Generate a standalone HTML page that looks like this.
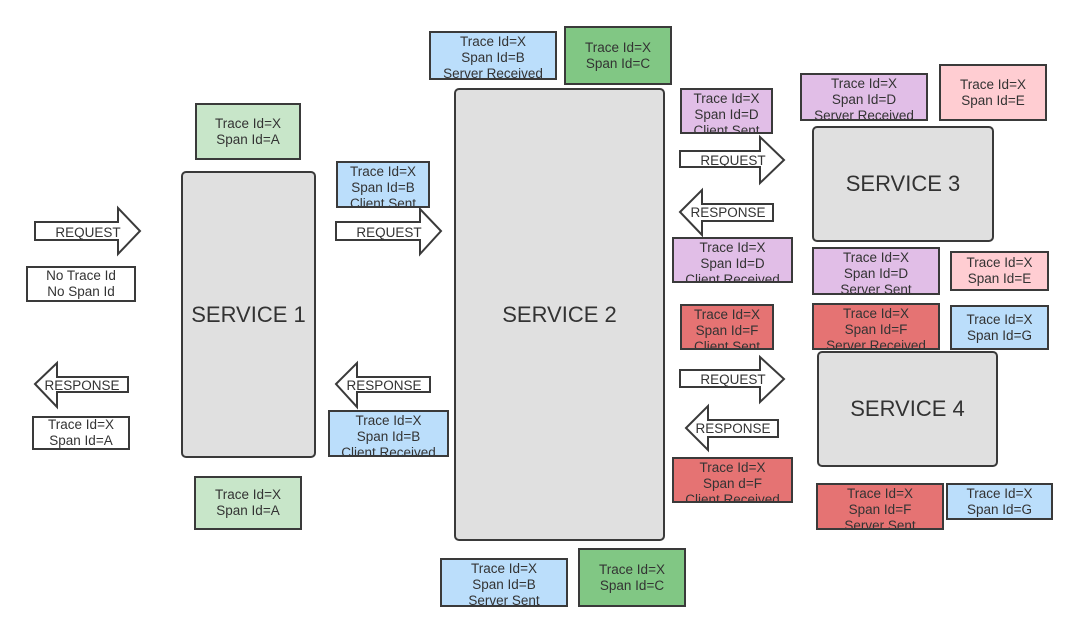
<!DOCTYPE html>
<html><head><meta charset="utf-8"><style>
body{margin:0;width:1080px;height:633px;background:#fff;position:relative;overflow:hidden;font-family:"Liberation Sans","DejaVu Sans",sans-serif;color:#333}
.b{position:absolute;box-sizing:border-box;border:2px solid #3a3a3a;font-size:13.5px;line-height:16px;text-align:center;overflow:hidden;display:flex;flex-direction:column;justify-content:center}
.t{justify-content:flex-start;padding-top:1px}
.s{position:absolute;box-sizing:border-box;border:2px solid #3a3a3a;border-radius:5px;background:#e0e0e0;display:flex;align-items:center;justify-content:center;font-size:22px;color:#333}
.g{background:#c8e6c9}.G{background:#81c784}.bl{background:#bbdefb}.p{background:#e1bee7}.k{background:#ffcdd2}.r{background:#e57373}.w{background:#fff}
svg{position:absolute;left:0;top:0}
</style></head><body>
<div class="s" style="left:181px;top:171px;width:135px;height:287px">SERVICE 1</div>
<div class="s" style="left:454px;top:88px;width:211px;height:453px">SERVICE 2</div>
<div class="s" style="left:812px;top:126px;width:182px;height:116px">SERVICE 3</div>
<div class="s" style="left:817px;top:351px;width:181px;height:116px">SERVICE 4</div>

<svg width="1080" height="633">
<g fill="#fff" stroke="#3a3a3a" stroke-width="2">
<polygon points="35,222 118,222 118,208 140,231 118,254 118,240 35,240"/>
<polygon points="336,222 420,222 420,209 441,231 420,254 420,240 336,240"/>
<polygon points="680,151 760,151 760,137 784,160 760,183 760,167 680,167"/>
<polygon points="680,370 760,370 760,357 784,379 760,402 760,387 680,387"/>
<polygon points="35,384 57,363 57,377 128,377 128,392 57,392 57,407"/>
<polygon points="336,384 357,363 357,377 430,377 430,392 357,392 357,407"/>
<polygon points="680,212 702,190 702,204 773,204 773,221 702,221 702,235"/>
<polygon points="686,428 708,406 708,420 778,420 778,437 708,437 708,450"/>
</g>
<g font-family="Liberation Sans, sans-serif" font-size="13.5" fill="#333" text-anchor="middle">
<text x="88" y="237">REQUEST</text>
<text x="389" y="237">REQUEST</text>
<text x="733" y="165">REQUEST</text>
<text x="733" y="384">REQUEST</text>
<text x="82" y="390">RESPONSE</text>
<text x="384" y="390">RESPONSE</text>
<text x="728" y="217">RESPONSE</text>
<text x="733" y="433">RESPONSE</text>
</g>
</svg>

<div class="b g" style="left:195px;top:103px;width:106px;height:57px">Trace Id=X<br>Span Id=A</div>
<div class="b bl t" style="left:336px;top:161px;width:94px;height:47px">Trace Id=X<br>Span Id=B<br>Client Sent</div>
<div class="b w" style="left:26px;top:266px;width:110px;height:36px">No Trace Id<br>No Span Id</div>
<div class="b w" style="left:32px;top:416px;width:98px;height:34px">Trace Id=X<br>Span Id=A</div>
<div class="b bl t" style="left:328px;top:410px;width:121px;height:47px">Trace Id=X<br>Span Id=B<br>Client Received</div>
<div class="b g" style="left:194px;top:476px;width:108px;height:54px">Trace Id=X<br>Span Id=A</div>
<div class="b bl t" style="left:429px;top:31px;width:128px;height:49px">Trace Id=X<br>Span Id=B<br>Server Received</div>
<div class="b G" style="left:564px;top:26px;width:108px;height:59px">Trace Id=X<br>Span Id=C</div>
<div class="b p t" style="left:680px;top:88px;width:93px;height:46px">Trace Id=X<br>Span Id=D<br>Client Sent</div>
<div class="b p t" style="left:800px;top:73px;width:128px;height:48px">Trace Id=X<br>Span Id=D<br>Server Received</div>
<div class="b k" style="left:939px;top:64px;width:108px;height:57px">Trace Id=X<br>Span Id=E</div>
<div class="b p t" style="left:672px;top:237px;width:121px;height:46px">Trace Id=X<br>Span Id=D<br>Client Received</div>
<div class="b p t" style="left:812px;top:247px;width:128px;height:48px">Trace Id=X<br>Span Id=D<br>Server Sent</div>
<div class="b k" style="left:950px;top:251px;width:99px;height:40px">Trace Id=X<br>Span Id=E</div>
<div class="b r t" style="left:680px;top:304px;width:94px;height:46px">Trace Id=X<br>Span Id=F<br>Client Sent</div>
<div class="b r t" style="left:812px;top:303px;width:128px;height:47px">Trace Id=X<br>Span Id=F<br>Server Received</div>
<div class="b bl" style="left:950px;top:305px;width:99px;height:45px">Trace Id=X<br>Span Id=G</div>
<div class="b r t" style="left:672px;top:457px;width:121px;height:46px">Trace Id=X<br>Span d=F<br>Client Received</div>
<div class="b r t" style="left:816px;top:483px;width:128px;height:47px">Trace Id=X<br>Span Id=F<br>Server Sent</div>
<div class="b bl" style="left:946px;top:483px;width:107px;height:37px">Trace Id=X<br>Span Id=G</div>
<div class="b bl t" style="left:440px;top:558px;width:128px;height:49px">Trace Id=X<br>Span Id=B<br>Server Sent</div>
<div class="b G" style="left:578px;top:548px;width:108px;height:59px">Trace Id=X<br>Span Id=C</div>
</body></html>
